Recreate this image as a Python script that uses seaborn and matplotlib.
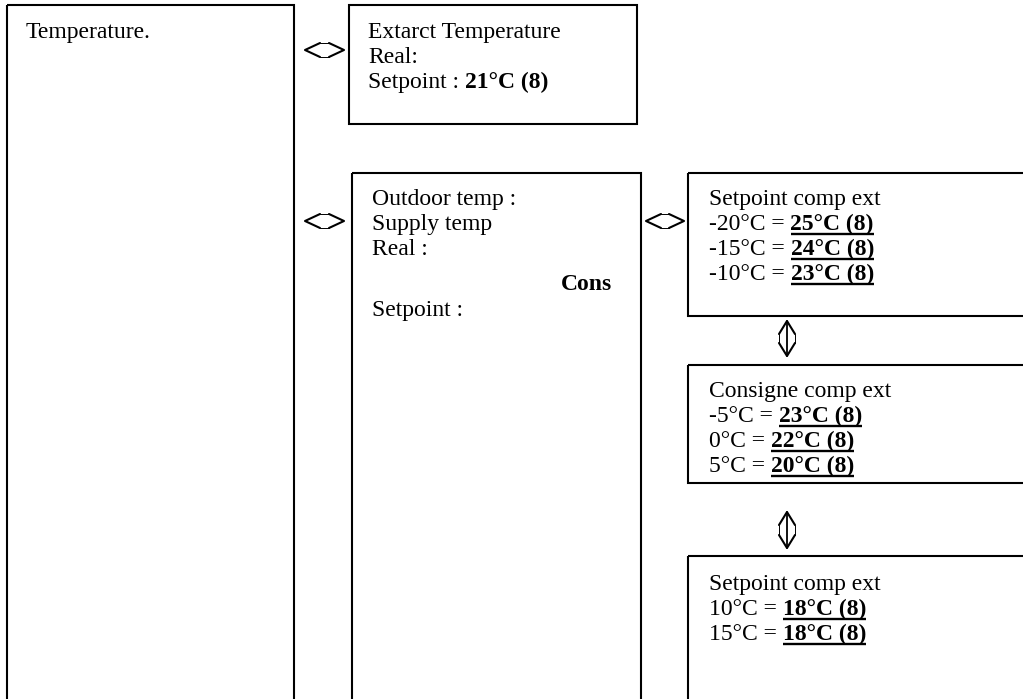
import matplotlib
matplotlib.use("Agg")
import matplotlib.pyplot as plt
from matplotlib.patches import Rectangle
import seaborn as sns

sns.set_theme(style="white")
plt.rcParams['font.family'] = ['Liberation Serif', 'DejaVu Serif']

# text content
main_title = "Temperature."
extract_title = "Extarct Temperature"
extract_real = "Real:"
extract_setpoint = 21
supply_labels = ["Outdoor temp :", "Supply temp", "Real :"]
supply_cons = "Cons"
supply_setpoint = "Setpoint :"
comp_titles = ["Setpoint comp ext", "Consigne comp ext", "Setpoint comp ext"]
outdoor_temps = [[-20, -15, -10], [-5, 0, 5], [10, 15]]
comp_setpoints = [[25, 24, 23], [23, 22, 20], [18, 18]]
channel = 8

# layout (pixels, y down)
boxes = [(7, 5, 294, 720), (349, 5, 637, 124), (352, 173, 641, 720),
         (688, 173, 1040, 316), (688, 365, 1040, 483), (688, 556, 1040, 720)]
h_arrows = [(305, 344, 50), (305, 344, 221), (646, 684, 221)]
v_arrows = [(787, 321, 356), (787, 512, 548)]
comp_text = [(709, 205), (709, 397), (709, 590)]
FS = 17
STEP = 25

fig = plt.figure(figsize=(10.23, 6.99), dpi=100)
ax = fig.add_axes([0, 0, 1, 1])
ax.set_xlim(0, 1023)
ax.set_ylim(699, 0)
ax.axis('off')
renderer = fig.canvas.get_renderer()
inv = ax.transData.inverted()


def text_width(s, weight='normal'):
    t = ax.text(0, 0, s, fontsize=FS, fontweight=weight)
    bb = t.get_window_extent(renderer=renderer)
    t.remove()
    return bb.width


space_w = text_width("x x") - text_width("xx")


def draw_line(x, y, plain, bold=None, underline=False):
    # plain part, then the bold part one space further on
    t = ax.text(x, y, plain, fontsize=FS, va='baseline', ha='left', color='black')
    if bold is None:
        return
    bb = t.get_window_extent(renderer=renderer)
    xb = bb.x1 + space_w
    x0 = inv.transform((xb, 0))[0]
    tb = ax.text(x0, y, bold, fontsize=FS, fontweight='bold', va='baseline', ha='left', color='black')
    if underline:
        bb2 = tb.get_window_extent(renderer=renderer)
        x1 = inv.transform((bb2.x1, 0))[0]
        ax.plot([x0, x1], [y + 3.5, y + 3.5], color='black', lw=1.7, solid_capstyle='butt')


def h_arrow(x0, x1, cy, hl=15, hw=7):
    # two chevrons "<>" joined by short thin lines
    ax.plot([x0 + hl, x0, x0 + hl], [cy - hw, cy, cy + hw], color='black', lw=1.5)
    ax.plot([x1 - hl, x1, x1 - hl], [cy - hw, cy, cy + hw], color='black', lw=1.5)
    for yy in (cy - hw, cy + hw):
        ax.plot([x0 + hl, x1 - hl], [yy, yy], color='black', lw=0.7)


def v_arrow(cx, y0, y1, hl=13, hw=8):
    ax.plot([cx - hw, cx, cx + hw], [y0 + hl, y0, y0 + hl], color='black', lw=1.5)
    ax.plot([cx - hw, cx, cx + hw], [y1 - hl, y1, y1 - hl], color='black', lw=1.5)
    for xx in (cx - hw, cx + hw):
        ax.plot([xx, xx], [y0 + hl, y1 - hl], color='black', lw=0.7)
    ax.plot([cx, cx], [y0, y1], color='black', lw=1.3)


for x0, y0, x1, y1 in boxes:
    ax.add_patch(Rectangle((x0, y0), x1 - x0, y1 - y0, fill=False, ec='black', lw=1.5))
for a in h_arrows:
    h_arrow(*a)
for a in v_arrows:
    v_arrow(*a)

# left panel
draw_line(26, 38, main_title)

# extract temperature panel
draw_line(368, 38, extract_title)
draw_line(368, 38 + STEP, extract_real)
draw_line(368, 38 + 2 * STEP, "Setpoint :", f"{extract_setpoint}°C ({channel})")

# supply panel
for i, lab in enumerate(supply_labels):
    draw_line(372, 205 + i * STEP, lab)
ax.text(612, 290, supply_cons, fontsize=FS, fontweight='bold', va='baseline', ha='right', color='black')
draw_line(372, 316, supply_setpoint)

# compensation panels
for (tx, ty), title, temps, sets in zip(comp_text, comp_titles, outdoor_temps, comp_setpoints):
    draw_line(tx, ty, title)
    for j, (o, s) in enumerate(zip(temps, sets)):
        draw_line(tx, ty + (j + 1) * STEP, f"{o}°C =", f"{s}°C ({channel})", underline=True)

fig.savefig("out.png", dpi=100)
